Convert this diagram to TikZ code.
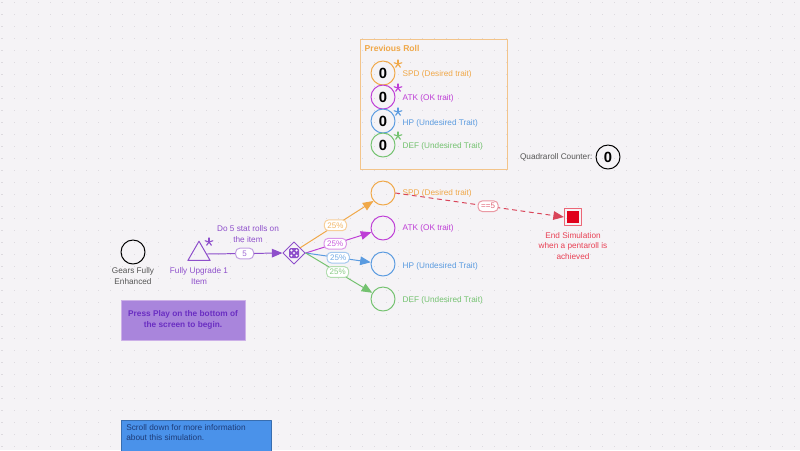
\documentclass[tikz,border=0pt]{standalone}
\usepackage{fontspec}
\setmainfont{Liberation Sans}
\usepackage{tikz}
\usetikzlibrary{arrows,shapes.geometric}

\definecolor{paper}{HTML}{F5F3F6}
\definecolor{griddot}{HTML}{DDDADF}
\definecolor{spdcol}{HTML}{F0A848}
\definecolor{atkcol}{HTML}{BE3ED6}
\definecolor{hpcol}{HTML}{5A9BE0}
\definecolor{defcol}{HTML}{74C270}
\definecolor{flowcol}{HTML}{8E4FCB}
\definecolor{endcol}{HTML}{E0001B}
\definecolor{enddash}{HTML}{D9455A}
\definecolor{rollbox}{HTML}{F3C48A}
\definecolor{playfill}{HTML}{A985DC}
\definecolor{playtext}{HTML}{6A2EC2}
\definecolor{scrollfill}{HTML}{4A92EA}
\definecolor{scrolltext}{HTML}{1E3C78}
\definecolor{labelgray}{HTML}{555555}

\tikzset{
  tiny text/.style={font=\fontsize{5.85}{7.3}\selectfont, align=center, inner sep=1pt},
  trait circle/.style={circle, draw=#1, line width=0.7pt, minimum size=0.6cm, inner sep=0pt},
  count circle/.style={trait circle=#1, font=\fontsize{10.5}{10.5}\selectfont\bfseries},
  pct label/.style={draw=#1!55, fill=white, solid, rounded corners=3pt, text=#1!85,
    font=\fontsize{5.7}{5.7}\selectfont, inner xsep=2.2pt, inner ysep=1.8pt},
  roll arrow/.style={->, draw=#1, line width=0.7pt},
}
\newcommand{\traitstar}[2]{%
  \foreach \a in {-90,-18,54,126,198} \draw[#2, line width=0.8pt] (#1) -- ++(\a:4);}

\begin{document}
\begin{tikzpicture}[line cap=round,line join=round,>=triangle 45,x=0.025cm,y=-0.025cm]
        \fill[paper] (0,0) rectangle (800,450);
        \useasboundingbox (0,0) rectangle (800,450);
        % dotted canvas
        \foreach \i in {0,...,66}
          \foreach \j in {0,...,37}
            \fill[griddot] (\i*12+1.5,\j*12+1.5) rectangle ++(1.6,1.6);
        % previous roll panel
        \draw[rollbox, line width=0.7pt] (360,39) rectangle (507,169);
        \node[tiny text, anchor=west, text=spdcol, font=\fontsize{6.1}{7}\selectfont\bfseries] (prevtitle) at (363,48) {Previous Roll};
        \node[count circle=spdcol] (prevspd) at (383,73) {0};
        \node[count circle=atkcol] (prevatk) at (383,97) {0};
        \node[count circle=hpcol] (prevhp) at (383,121) {0};
        \node[count circle=defcol] (prevdef) at (383,145) {0};
        \traitstar{398,64}{spdcol}
        \traitstar{398,88}{atkcol}
        \traitstar{398,112}{hpcol}
        \traitstar{398,136}{defcol}
        \node[tiny text, anchor=west, text=spdcol] (prevspdlbl) at (401,74) {SPD (Desired trait)};
        \node[tiny text, anchor=west, text=atkcol] (prevatklbl) at (401,98) {ATK (OK trait)};
        \node[tiny text, anchor=west, text=hpcol] (prevhplbl) at (401,123) {HP (Undesired Trait)};
        \node[tiny text, anchor=west, text=defcol] (prevdeflbl) at (401,146) {DEF (Undesired Trait)};
        % quadraroll counter
        \node[tiny text, anchor=east, text=labelgray] (quadlbl) at (594,157) {Quadraroll Counter:};
        \node[count circle=black] (quad) at (608,157) {0};
        % start of the flow
        \node[trait circle=black] (gears) at (133,252) {};
        \node[tiny text, text=labelgray] (gearslbl) at (133,276) {Gears Fully\\Enhanced};
        \node[regular polygon, regular polygon sides=3, draw=flowcol, line width=0.7pt,
              minimum size=0.64cm, inner sep=0pt] (upgrade) at (199,254) {};
        \traitstar{209,242}{flowcol}
        \node[tiny text, text=flowcol] (upgradelbl) at (199,276) {Fully Upgrade 1\\Item};
        \node[diamond, draw=flowcol, line width=0.7pt, minimum width=0.56cm,
              minimum height=0.56cm, inner sep=0pt] (dice) at (294,253) {};
        \fill[flowcol, rounded corners=1.2pt] (289,248) rectangle (299,258);
        \foreach \dx/\dy in {-2.6/-2.6,2.6/-2.6,0/0,-2.6/2.6,2.6/2.6}
          \fill[white] (294+\dx,253+\dy) circle (0.03cm);
        \node[tiny text, text=flowcol] (rollslbl) at (248,234) {Do 5 stat rolls on\\the item};
        \draw[roll arrow=flowcol] (upgrade.east) -- node[pct label=flowcol, minimum width=0.45cm] {5} (dice.west);
        % rolled traits
        \node[trait circle=spdcol] (spd) at (383,193) {};
        \node[trait circle=atkcol] (atk) at (383,228) {};
        \node[trait circle=hpcol] (hp) at (383,264) {};
        \node[trait circle=defcol] (def) at (383,299) {};
        \node[tiny text, anchor=west, text=spdcol] (spdlbl) at (401,193) {SPD (Desired trait)};
        \node[tiny text, anchor=west, text=atkcol] (atklbl) at (401,228) {ATK (OK trait)};
        \node[tiny text, anchor=west, text=hpcol] (hplbl) at (401,266) {HP (Undesired Trait)};
        \node[tiny text, anchor=west, text=defcol] (deflbl) at (401,300) {DEF (Undesired Trait)};
        \draw[roll arrow=spdcol] (dice.40) -- node[pct label=spdcol, pos=0.48] {25\%} (spd.220);
        \draw[roll arrow=atkcol] (dice.east) -- node[pct label=atkcol, pos=0.45] {25\%} (atk.200);
        \draw[roll arrow=hpcol] (dice.east) -- node[pct label=hpcol, pos=0.5] {25\%} (hp.172);
        \draw[roll arrow=defcol] (dice.east) -- node[pct label=defcol, pos=0.48] {25\%} (def.150);
        % end of the simulation
        \node[rectangle, draw=endcol!60, line width=0.5pt, minimum size=0.44cm, inner sep=0pt] (endsim) at (573,217) {};
        \node[rectangle, fill=endcol, minimum size=0.3cm, inner sep=0pt] (endfill) at (573,217) {};
        \node[tiny text, text=endcol!75] (endlbl) at (573,246) {End Simulation\\when a pentaroll is\\achieved};
        \draw[roll arrow=enddash, dashed] (spd.east) -- node[pct label=enddash, pos=0.55] {==5} (endsim.west);
        % notes
        \node[draw=flowcol!45, fill=playfill, line width=0.4pt, minimum width=3.1cm, minimum height=1cm,
              text=playtext, font=\fontsize{5.9}{7.4}\selectfont\bfseries, align=center] (playnote) at (183,320)
              {Press Play on the bottom of\\the screen to begin.};
        \draw[scrollfill!75!black, fill=scrollfill, line width=0.5pt] (121,420) rectangle (271,452);
        \node[text=scrolltext, font=\fontsize{5.9}{7.2}\selectfont, align=left, anchor=north west,
              inner sep=0pt] (scrollnote) at (126,424)
              {Scroll down for more information\\about this simulation.};
    \end{tikzpicture}
\end{document}
